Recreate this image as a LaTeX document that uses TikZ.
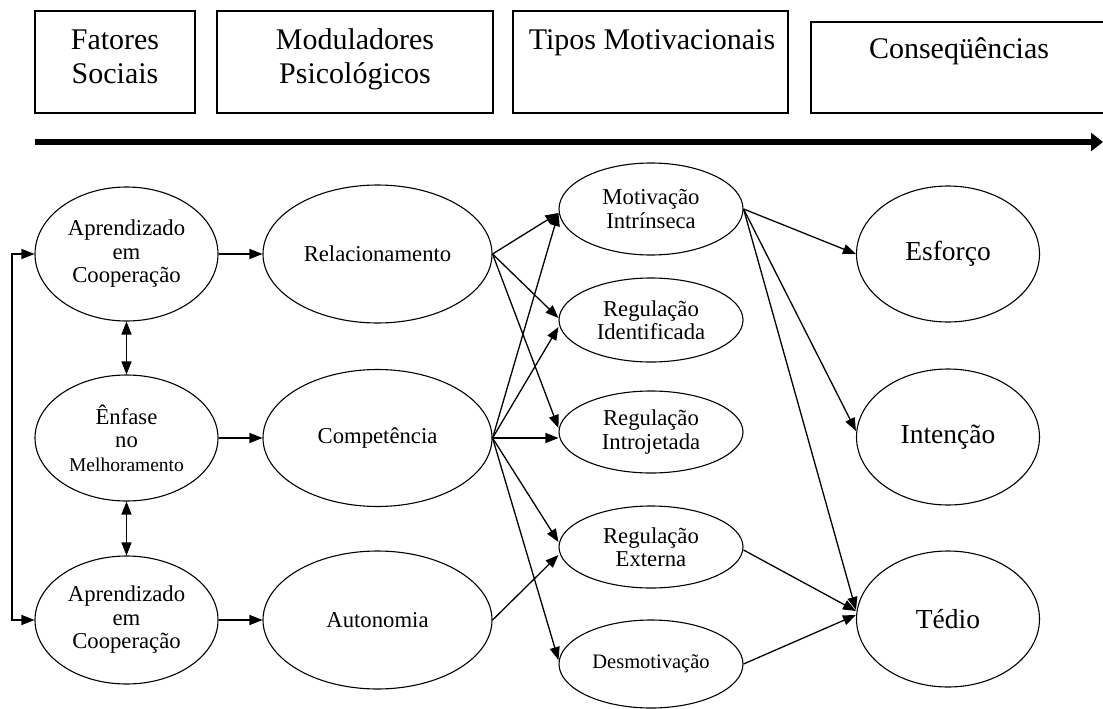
\documentclass[tikz,border=0pt]{standalone}
\usepackage{fontspec}
\setmainfont{Liberation Serif}
\usetikzlibrary{arrows.meta,shapes.geometric}
\begin{document}
\begin{tikzpicture}[x=1pt,y=-1pt,
  ell/.style={ellipse,draw,line width=1.1pt,inner sep=0pt,align=center},
  body/.style={font=\fontsize{22.7}{23.5}\selectfont},
  big/.style={font=\fontsize{27.5}{30}\selectfont},
  arr/.style={line width=1.3pt,-{Triangle[length=13pt,width=10pt]}},
  dbl/.style={line width=1.3pt,{Triangle[length=13pt,width=10pt]}-{Triangle[length=13pt,width=10pt]}},
  box/.style={draw,line width=1.1pt,inner sep=0pt},
  head/.style={font=\fontsize{30}{34}\selectfont,anchor=base,align=center,inner sep=0pt}]
\useasboundingbox (0,0) rectangle (1103,709);
% header boxes
\node[box,minimum width=160pt,minimum height=102pt] (b1) at (115,62) {};
\node[box,minimum width=276pt,minimum height=102pt] (b2) at (355,62) {};
\node[box,minimum width=275pt,minimum height=102pt] (b3) at (650.5,62) {};
\node[box,minimum width=299pt,minimum height=91pt] (b4) at (960.5,67.5) {};
\node[head] (t1) at (115,83) {Fatores\\Sociais};
\node[head] (t2) at (355,83) {Moduladores\\Psicológicos};
\node[head] (t3) at (652,50) {Tipos Motivacionais};
\node[head] (t4) at (959,59) {Conseqüências};
% timeline arrow
\coordinate (ts) at (35,142);
\coordinate (te) at (1103,142);
\draw[line width=6pt,-{Triangle[length=12pt,width=18pt]}] (ts) -- (te);
% left column
\node[ell,body,minimum width=183pt,minimum height=134pt] (A1) at (126.5,254) {Aprendizado\\em\\Cooperação};
\node[ell,body,minimum width=183pt,minimum height=126pt] (E) at (126.5,438) {Ênfase\\no\\{\fontsize{19.5}{23.5}\selectfont Melhoramento}};
\node[ell,body,minimum width=183pt,minimum height=128pt] (A3) at (126.5,620) {Aprendizado\\em\\Cooperação};
% second column
\node[ell,body,minimum width=229pt,minimum height=138pt] (Rel) at (377.5,254) {Relacionamento};
\node[ell,body,minimum width=229pt,minimum height=137pt] (Comp) at (377.5,438) {Competência};
\node[ell,body,minimum width=229pt,minimum height=138pt] (Auto) at (377.5,620) {Autonomia};
% third column
\node[ell,body,minimum width=184pt,minimum height=92pt] (MI) at (651,209) {Motivação\\Intrínseca};
\node[ell,body,minimum width=184pt,minimum height=84pt] (RI) at (651,320) {Regulação\\Identificada};
\node[ell,body,minimum width=184pt,minimum height=82pt] (RIn) at (651,432) {Regulação\\Introjetada};
\node[ell,body,minimum width=184pt,minimum height=82pt] (RE) at (651,547) {Regulação\\Externa};
\node[ell,font=\fontsize{20.5}{23}\selectfont,minimum width=184pt,minimum height=88pt] (D) at (651,664) {Desmotivação};
% right column
\node[ell,big,minimum width=183pt,minimum height=136pt] (Esf) at (948,254) {Esforço};
\node[ell,big,minimum width=183pt,minimum height=136pt] (Int) at (948,437) {Intenção};
\node[ell,big,minimum width=183pt,minimum height=136pt] (Ted) at (948,619) {Tédio};
% left bracket
\coordinate (bk) at (12,0);
\draw[dbl] (A1.west) -- (A1.west -| bk) -- (A3.west -| bk) -- (A3.west);
% vertical double arrows
\draw[dbl] (A1.south) -- (E.north);
\draw[dbl] (E.south) -- (A3.north);
% horizontal arrows
\draw[arr] (A1.east) -- (Rel.west);
\draw[arr] (E.east) -- (Comp.west);
\draw[arr] (A3.east) -- (Auto.west);
% from Relacionamento
\draw[arr] (Rel.east) -- ([yshift=-4pt]MI.west);
\draw[arr] (Rel.east) -- ([yshift=2pt]RI.west);
\draw[arr] (Rel.east) -- ([yshift=4pt]RIn.west);
% from Competencia
\draw[arr] (Comp.east) -- ([yshift=-4pt]MI.west);
\draw[arr] (Comp.east) -- ([yshift=-7pt]RI.west);
\draw[arr] (Comp.east) -- (RIn.west |- Comp.east);
\draw[arr] (Comp.east) -- ([yshift=5pt]RE.west);
\draw[arr] (Comp.east) -- ([yshift=4pt]D.west);
% from Autonomia
\draw[arr] (Auto.east) -- ([yshift=-8pt]RE.west);
% to consequences
\draw[arr] (MI.east) -- (Esf.west);
\draw[arr] (MI.east) -- ([yshift=6pt]Int.west);
\draw[arr] (MI.east) -- ([yshift=9pt]Ted.west);
\draw[arr] ([yshift=-3pt]RE.east) -- ([yshift=8pt]Ted.west);
\draw[arr] (D.east) -- ([yshift=4pt]Ted.west);
\end{tikzpicture}
\end{document}
